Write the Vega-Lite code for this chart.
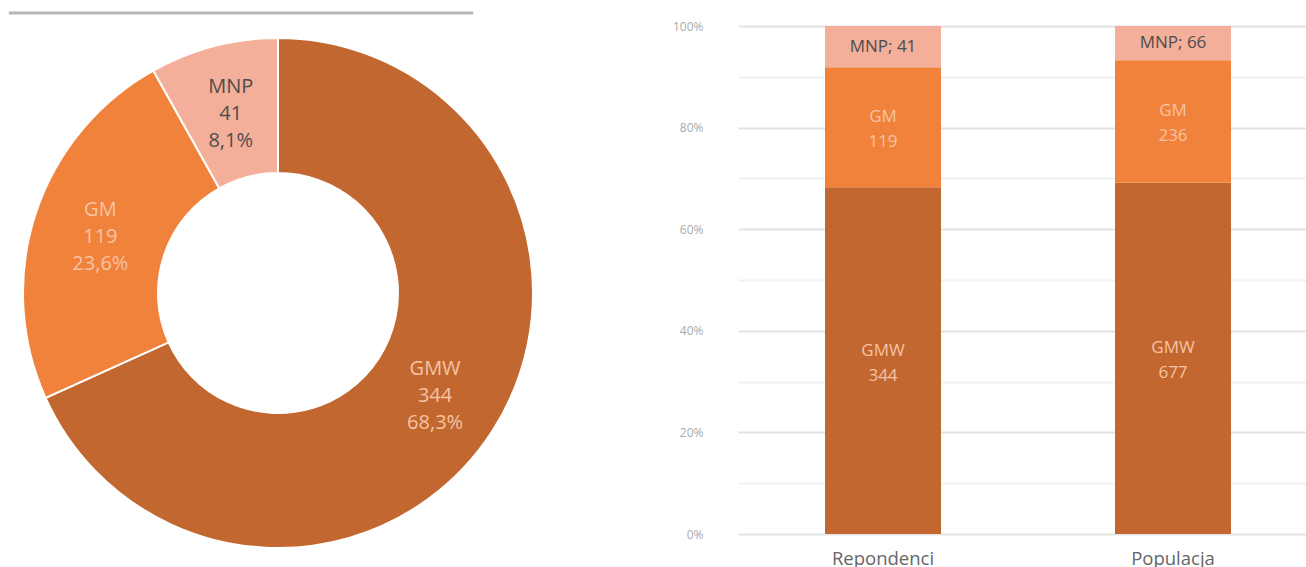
{
  "$schema": "https://vega.github.io/schema/vega-lite/v6.json",
  "padding": 0,
  "background": "white",
  "spacing": 116,
  "config": {"view": {"stroke": null}, "font": "Open Sans"},
  "hconcat": [
    {
      "width": 556,
      "height": 586,
      "data": {"values": [
        {"cat": "GMW", "ord": 1, "value": 344, "label": "GMW\n344\n68,3%"},
        {"cat": "GM", "ord": 2, "value": 119, "label": "GM\n119\n23,6%"},
        {"cat": "MNP", "ord": 3, "value": 41, "label": "MNP\n41\n8,1%"}
      ]},
      "layer": [
        {
          "mark": {"type": "arc", "outerRadius": 255, "innerRadius": 120, "stroke": "white", "strokeWidth": 2},
          "encoding": {
            "theta": {"field": "value", "type": "quantitative", "stack": true},
            "order": {"field": "ord", "type": "quantitative"},
            "color": {"field": "cat", "type": "nominal", "legend": null,
              "scale": {"domain": ["GMW", "GM", "MNP"], "range": ["#C1672F", "#F0823B", "#F3AF99"]}}
          }
        },
        {
          "mark": {"type": "text", "radius": 187, "fontSize": 20, "lineHeight": 27, "lineBreak": "\n", "align": "center", "baseline": "middle", "dy": -25},
          "encoding": {
            "theta": {"field": "value", "type": "quantitative", "stack": true},
            "order": {"field": "ord", "type": "quantitative"},
            "text": {"field": "label", "type": "nominal"},
            "color": {"condition": {"test": "datum.cat === 'MNP'", "value": "#4d4d4d"}, "value": "#F7C3A5"}
          }
        },
        {
          "data": {"values": [{"sep": "line"}]},
          "mark": {"type": "rule", "color": "#b4b6b6", "strokeWidth": 3},
          "encoding": {
            "x": {"datum": 0.016, "type": "quantitative", "scale": {"domain": [0, 1], "nice": false}, "axis": null},
            "x2": {"datum": 0.851},
            "y": {"datum": 0.978, "type": "quantitative", "scale": {"domain": [0, 1], "nice": false}, "axis": null}
          }
        }
      ]
    },
    {
      "width": 580,
      "height": 534,
      "data": {"values": [
        {"group": "Repondenci", "cat": "GMW", "ord": 1, "value": 344, "label": "GMW\n344"},
        {"group": "Repondenci", "cat": "GM", "ord": 2, "value": 119, "label": "GM\n119"},
        {"group": "Repondenci", "cat": "MNP", "ord": 3, "value": 41, "label": "MNP; 41"},
        {"group": "Populacja", "cat": "GMW", "ord": 1, "value": 677, "label": "GMW\n677"},
        {"group": "Populacja", "cat": "GM", "ord": 2, "value": 236, "label": "GM\n236"},
        {"group": "Populacja", "cat": "MNP", "ord": 3, "value": 66, "label": "MNP; 66"}
      ]},
      "encoding": {
        "x": {"field": "group", "type": "nominal", "sort": ["Repondenci", "Populacja"], "title": null,
          "scale": {"paddingInner": 0.6, "paddingOuter": 0.3},
          "axis": {"labelAngle": 0, "domain": false, "ticks": false, "labelFontSize": 18.5, "labelColor": "#666666", "labelPadding": 15}}
      },
      "layer": [
        {
          "mark": {"type": "bar"},
          "encoding": {
            "y": {"field": "value", "type": "quantitative", "stack": "normalize", "title": null,
              "scale": {"domain": [0, 1.0512], "nice": false},
              "axis": {"values": [0, 0.1, 0.2, 0.3, 0.4, 0.5, 0.6, 0.7, 0.8, 0.9, 1], "format": ".0%",
                "labelExpr": "round(datum.value*10) % 2 === 0 ? datum.label : ''",
                "domain": false, "ticks": false, "labelPadding": 35, "labelFontSize": 12, "labelColor": "#aaaaaa",
                "gridWidth": 2,
                "gridColor": {"condition": {"test": "round(datum.value*10) % 2 === 0", "value": "#e3e3e3"}, "value": "#f1f1f1"}}},
            "order": {"field": "ord", "type": "quantitative"},
            "color": {"field": "cat", "type": "nominal", "legend": null,
              "scale": {"domain": ["GMW", "GM", "MNP"], "range": ["#C1672F", "#F0823B", "#F3AF99"]}}
          }
        },
        {
          "transform": [
            {"stack": "value", "groupby": ["group"], "sort": [{"field": "ord"}], "offset": "normalize", "as": ["y0", "y1"]},
            {"calculate": "(datum.y0 + datum.y1) / 2", "as": "mid"},
            {"filter": "datum.cat !== 'MNP'"}
          ],
          "mark": {"type": "text", "fontSize": 17, "lineHeight": 25, "lineBreak": "\n", "align": "center", "baseline": "middle", "dy": -10, "color": "#F7C3A5"},
          "encoding": {
            "y": {"field": "mid", "type": "quantitative", "title": null},
            "text": {"field": "label", "type": "nominal"}
          }
        },
        {
          "transform": [
            {"stack": "value", "groupby": ["group"], "sort": [{"field": "ord"}], "offset": "normalize", "as": ["y0", "y1"]},
            {"calculate": "(datum.y0 + datum.y1) / 2", "as": "mid"},
            {"filter": "datum.cat === 'MNP'"}
          ],
          "mark": {"type": "text", "fontSize": 17, "align": "center", "baseline": "middle", "color": "#4d4d4d"},
          "encoding": {
            "y": {"field": "mid", "type": "quantitative", "title": null},
            "text": {"field": "label", "type": "nominal"}
          }
        }
      ]
    }
  ]
}
